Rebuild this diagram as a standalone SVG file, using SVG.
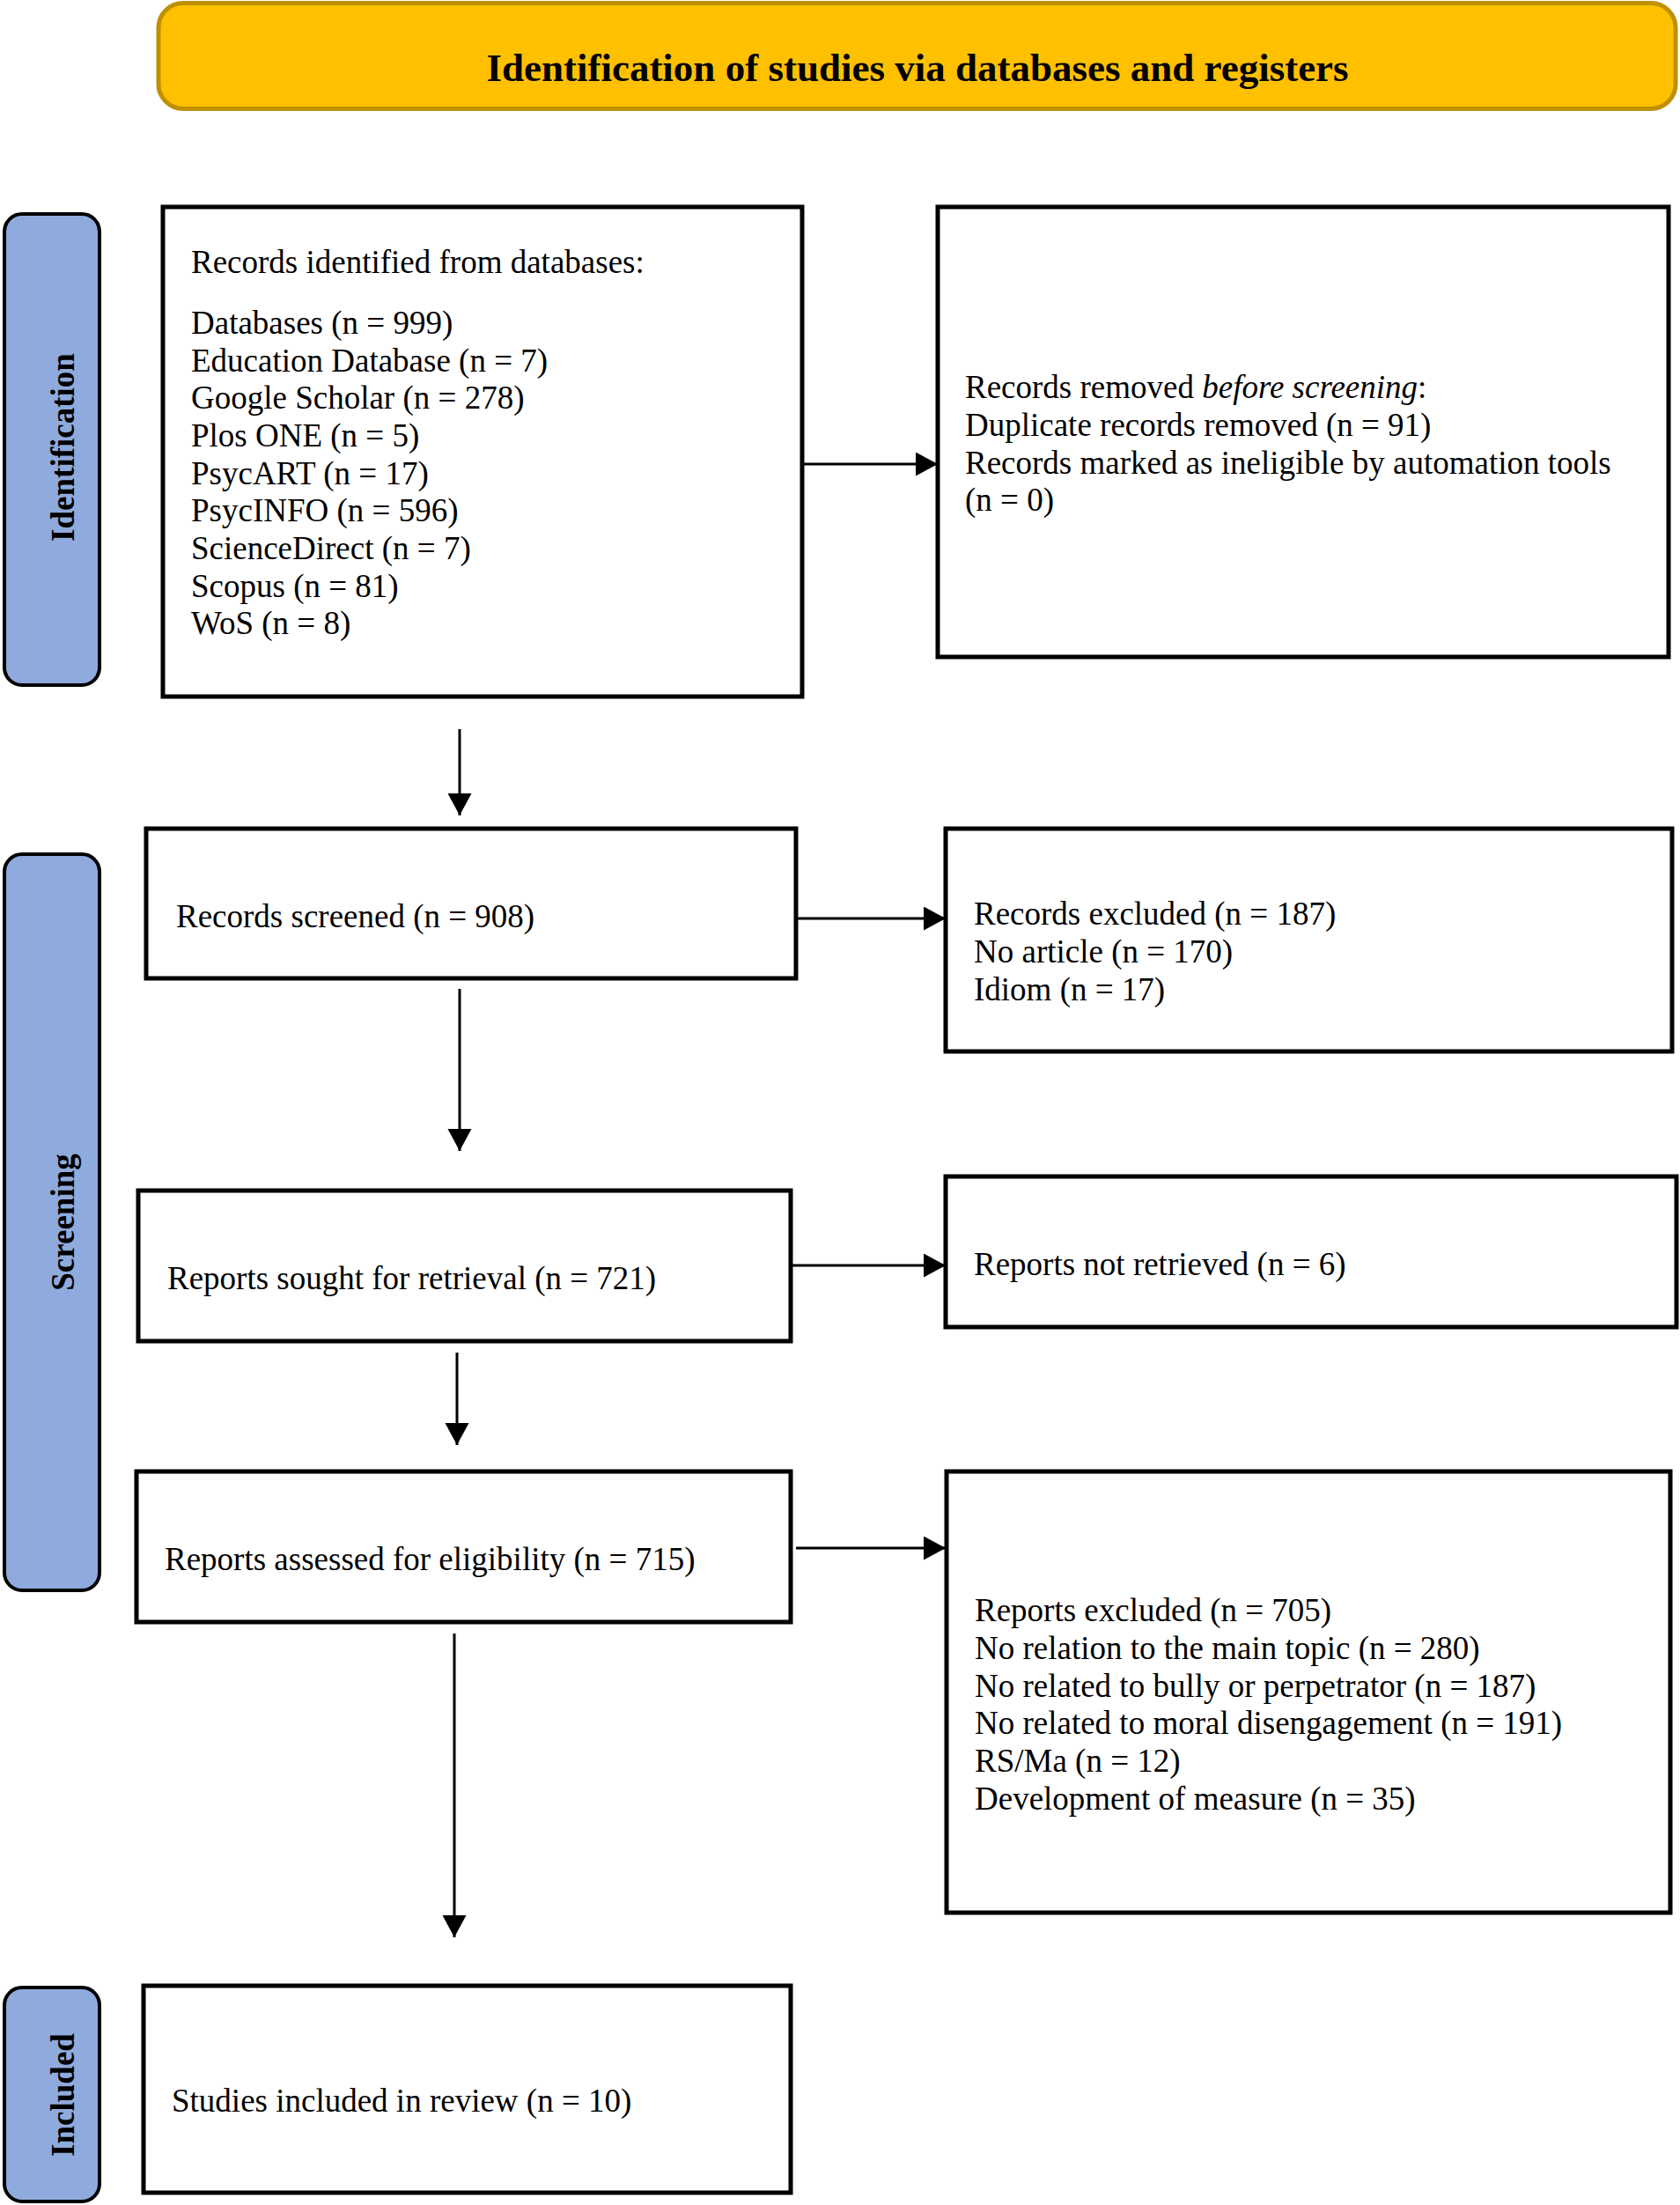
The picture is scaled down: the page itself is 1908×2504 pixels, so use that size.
<svg xmlns="http://www.w3.org/2000/svg" width="1908" height="2504" viewBox="0 0 1908 2504">
<style>
.bg{fill:#ffffff}
.box{fill:#ffffff;stroke:#000000;stroke-width:5}
.side{fill:#8FAADC;stroke:#000000;stroke-width:4}
.hdr{fill:#FFC000;stroke:#BF9000;stroke-width:5}
.t{font-family:"Liberation Serif","Times New Roman",serif;font-size:37px;fill:#000000}
.title{font-family:"Liberation Serif","Times New Roman",serif;font-size:45px;font-weight:bold;fill:#000000}
.lab{font-family:"Liberation Serif","Times New Roman",serif;font-size:37px;font-weight:bold;fill:#000000}
.conn{stroke:#000000;stroke-width:3;fill:none;marker-end:url(#ah)}
</style>
<defs>
<marker id="ah" markerUnits="userSpaceOnUse" markerWidth="26" markerHeight="28" refX="25" refY="13.5" orient="auto">
<path d="M0,0 L25,13.5 L0,27 Z" fill="#000000"/>
</marker>
</defs>
<rect class="bg" x="0" y="0" width="1908" height="2504"/>

<g id="header">
<rect class="hdr" x="180" y="3.5" width="1723" height="120" rx="28" ry="28"/>
<text class="title" x="1042" y="92" text-anchor="middle">Identification of studies via databases and registers</text>
</g>

<g id="side-identification">
<rect class="side" x="5" y="243" width="108" height="535" rx="20" ry="20"/>
<text class="lab" transform="translate(84,508) rotate(-90)" text-anchor="middle">Identification</text>
</g>
<g id="side-screening">
<rect class="side" x="5" y="970" width="108" height="836" rx="20" ry="20"/>
<text class="lab" transform="translate(84,1388) rotate(-90)" text-anchor="middle">Screening</text>
</g>
<g id="side-included">
<rect class="side" x="5" y="2257" width="108" height="243" rx="20" ry="20"/>
<text class="lab" transform="translate(84,2379) rotate(-90)" text-anchor="middle">Included</text>
</g>

<g id="records-identified">
<rect class="box" x="185" y="235" width="726" height="556"/>
<text class="t" x="217" y="310">Records identified from databases:</text>
<text class="t" x="217" y="379">Databases (n = 999)</text>
<text class="t" x="217" y="421.5">Education Database (n = 7)</text>
<text class="t" x="217" y="464">Google Scholar (n = 278)</text>
<text class="t" x="217" y="507">Plos ONE (n = 5)</text>
<text class="t" x="217" y="549.5">PsycART (n = 17)</text>
<text class="t" x="217" y="592">PsycINFO (n = 596)</text>
<text class="t" x="217" y="635">ScienceDirect (n = 7)</text>
<text class="t" x="217" y="677.5">Scopus (n = 81)</text>
<text class="t" x="217" y="720">WoS (n = 8)</text>
</g>

<g id="records-removed">
<rect class="box" x="1065" y="235" width="830" height="511"/>
<text class="t" x="1096" y="452">Records removed <tspan font-style="italic">before screening</tspan>:</text>
<text class="t" x="1096" y="495">Duplicate records removed (n = 91)</text>
<text class="t" x="1096" y="538">Records marked as ineligible by automation tools</text>
<text class="t" x="1096" y="580">(n = 0)</text>
</g>

<g id="records-screened">
<rect class="box" x="166" y="941" width="738" height="170"/>
<text class="t" x="200" y="1053">Records screened (n = 908)</text>
</g>

<g id="records-excluded">
<rect class="box" x="1074" y="941" width="825" height="253"/>
<text class="t" x="1106" y="1050">Records excluded (n = 187)</text>
<text class="t" x="1106" y="1093">No article (n = 170)</text>
<text class="t" x="1106" y="1136">Idiom (n = 17)</text>
</g>

<g id="reports-sought">
<rect class="box" x="157" y="1352" width="741" height="171"/>
<text class="t" x="190" y="1464">Reports sought for retrieval (n = 721)</text>
</g>

<g id="reports-not-retrieved">
<rect class="box" x="1074" y="1336" width="830" height="171"/>
<text class="t" x="1106" y="1448">Reports not retrieved (n = 6)</text>
</g>

<g id="reports-assessed">
<rect class="box" x="155" y="1671" width="743" height="171"/>
<text class="t" x="187" y="1783">Reports assessed for eligibility (n = 715)</text>
</g>

<g id="reports-excluded">
<rect class="box" x="1075" y="1671" width="822" height="501"/>
<text class="t" x="1107" y="1841">Reports excluded (n = 705)</text>
<text class="t" x="1107" y="1884">No relation to the main topic (n = 280)</text>
<text class="t" x="1107" y="1927">No related to bully or perpetrator (n = 187)</text>
<text class="t" x="1107" y="1969">No related to moral disengagement (n = 191)</text>
<text class="t" x="1107" y="2012">RS/Ma (n = 12)</text>
<text class="t" x="1107" y="2055">Development of measure (n = 35)</text>
</g>

<g id="studies-included">
<rect class="box" x="163" y="2255" width="735" height="235"/>
<text class="t" x="195" y="2398">Studies included in review (n = 10)</text>
</g>

<g id="connectors">
<line class="conn" x1="911" y1="527" x2="1065" y2="527"/>
<line class="conn" x1="522" y1="828" x2="522" y2="926"/>
<line class="conn" x1="904" y1="1043" x2="1074" y2="1043"/>
<line class="conn" x1="522" y1="1123" x2="522" y2="1307"/>
<line class="conn" x1="898" y1="1437" x2="1074" y2="1437"/>
<line class="conn" x1="519" y1="1536" x2="519" y2="1641"/>
<line class="conn" x1="904" y1="1758" x2="1074" y2="1758"/>
<line class="conn" x1="516" y1="1855" x2="516" y2="2200"/>
</g>
</svg>
